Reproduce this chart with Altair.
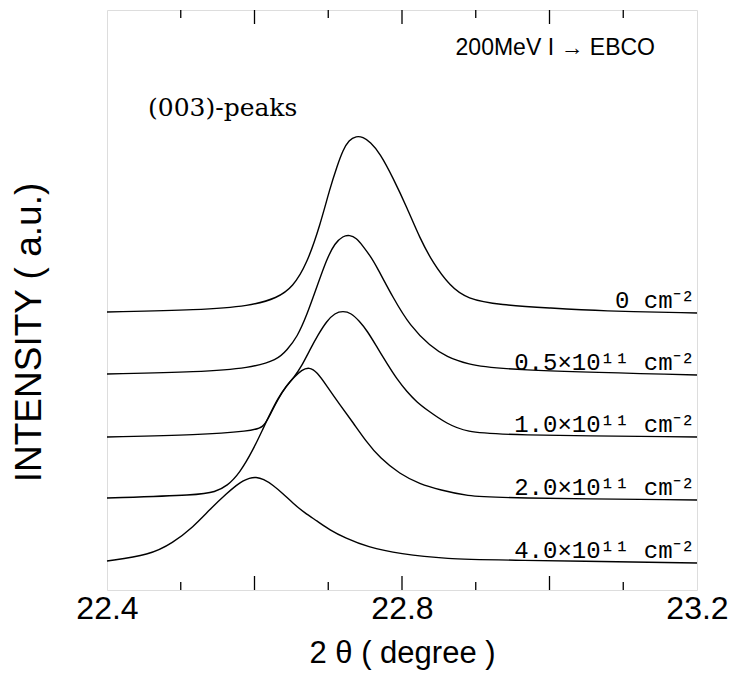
import altair as alt
import pandas as pd

# ---- data ----
fluence_labels = ["0 cm⁻²", "0.5×10¹¹ cm⁻²", "1.0×10¹¹ cm⁻²", "2.0×10¹¹ cm⁻²", "4.0×10¹¹ cm⁻²"]

x_0 = [22.400, 22.526, 22.594, 22.631, 22.652, 22.671, 22.689, 22.702, 22.712, 22.720, 22.728,
       22.738, 22.747, 22.757, 22.770, 22.788, 22.807, 22.824, 22.842, 22.865, 22.888, 22.933,
       23.001, 23.068, 23.200]
y_0 = [278, 280, 284, 292, 303, 326, 365, 401, 424, 440, 450,
       454, 453, 448, 437, 412, 382, 352, 327, 304, 291, 285,
       282, 279, 277]

x_05 = [22.400, 22.526, 22.594, 22.631, 22.644, 22.658, 22.671, 22.685, 22.698, 22.709, 22.720,
        22.729, 22.738, 22.747, 22.757, 22.766, 22.788, 22.811, 22.838, 22.861, 22.888, 22.933,
        23.200]
y_05 = [216, 218, 222, 230, 240, 253, 275, 304, 331, 347, 354,
        355, 352, 344, 334, 323, 292, 264, 244, 233, 226, 220,
        215]

x_10 = [22.400, 22.526, 22.594, 22.612, 22.621, 22.632, 22.643, 22.654, 22.664, 22.675, 22.686,
        22.698, 22.709, 22.720, 22.731, 22.742, 22.753, 22.766, 22.780, 22.793, 22.807, 22.820,
        22.834, 22.861, 22.888, 22.933, 23.200]
y_10 = [153, 155, 159, 162, 175, 191, 204, 213, 224, 240, 255,
        269, 277, 279, 277, 269, 259, 243, 226, 211, 198, 188,
        180, 166, 158, 155, 153]

x_20 = [22.400, 22.526, 22.546, 22.563, 22.580, 22.598, 22.612, 22.621, 22.632, 22.643, 22.654,
        22.664, 22.674, 22.685, 22.698, 22.716, 22.734, 22.751, 22.770, 22.797, 22.824, 22.852,
        22.888, 22.933, 23.200]
y_20 = [92, 95, 98, 104, 117, 140, 162, 176, 192, 204, 213,
        220, 223, 218, 204, 185, 167, 149, 132, 116, 106, 100,
        94, 92, 90]

x_40 = [22.400, 22.458, 22.489, 22.517, 22.540, 22.563, 22.576, 22.584, 22.593, 22.602, 22.612,
        22.625, 22.639, 22.652, 22.668, 22.685, 22.702, 22.723, 22.753, 22.797, 22.861, 22.933,
        23.200]
y_40 = [29, 35, 47, 63, 81, 97, 105, 109, 112, 113, 111,
        105, 96, 87, 77, 69, 60, 52, 43, 36, 31, 30,
        27]

x_labels = [22.4, 22.8, 23.2]
major_ticks = [22.6, 22.8, 23.0]
minor_ticks = [22.5, 22.7, 22.9, 23.1]

series_x = [x_0, x_05, x_10, x_20, x_40]
series_y = [y_0, y_05, y_10, y_20, y_40]

rows = []
for lab, xs, ys in zip(fluence_labels, series_x, series_y):
    for j, (a, b) in enumerate(zip(xs, ys)):
        rows.append({"twotheta": a, "intensity": b, "fluence": lab, "k": j})
df = pd.DataFrame(rows)

lab_df = pd.DataFrame({"fluence": fluence_labels,
                       "intensity": [ys[-1] for ys in series_y]})

xsc = alt.Scale(domain=[22.4, 23.2], nice=False, zero=False)
ysc = alt.Scale(domain=[0, 580], nice=False, zero=False)

lines = alt.Chart(df).mark_line(color="black", strokeWidth=1.4, interpolate="basis").encode(
    x=alt.X("twotheta:Q", scale=xsc,
            axis=alt.Axis(values=x_labels, format=".1f", ticks=False, domain=False, grid=False,
                          labelFontSize=32, labelFont="Liberation Sans", labelColor="black",
                          labelPadding=3, labelFlush=False, labelOverlap=False,
                          title="2 θ  ( degree )", titleFontSize=31, titleFont="Liberation Sans",
                          titleFontWeight="normal", titleColor="black", titlePadding=14)),
    y=alt.Y("intensity:Q", scale=ysc,
            axis=alt.Axis(labels=False, ticks=False, domain=False, grid=False,
                          title="INTENSITY ( a.u.)", titleFontSize=37, titleFont="Liberation Sans",
                          titleFontWeight="normal", titleColor="black", titleX=-59, titleY=322)),
    detail="fluence:N",
    order="k:Q",
)

maj_df = pd.DataFrame({"twotheta": major_ticks})
min_df = pd.DataFrame({"twotheta": minor_ticks})

def xtick(d, y1, y2):
    return alt.Chart(d).mark_rule(color="black", strokeWidth=1.3).encode(
        x=alt.X("twotheta:Q", scale=xsc), y=alt.value(y1), y2=alt.value(y2))

ticks = [xtick(maj_df, 580, 566), xtick(min_df, 580, 572),
         xtick(maj_df, 0, 14), xtick(min_df, 0, 8)]

labels = alt.Chart(lab_df).mark_text(align="right", baseline="alphabetic", dy=-5,
                                     font="Liberation Mono", fontSize=24, color="black").encode(
    y=alt.Y("intensity:Q", scale=ysc), x=alt.value(588), text="fluence:N")

title1 = alt.Chart(pd.DataFrame({"t": ["200MeV  I → EBCO"]})).mark_text(
    align="right", baseline="middle", font="Liberation Sans", fontSize=23, color="black").encode(
    x=alt.value(548), y=alt.value(38), text="t:N")

title2 = alt.Chart(pd.DataFrame({"t": ["(003)-peaks"]})).mark_text(
    align="left", baseline="middle", font="DejaVu Serif", fontSize=25, color="black").encode(
    x=alt.value(41), y=alt.value(98), text="t:N")

chart = alt.layer(lines, *ticks, labels, title1, title2).properties(
    width=590, height=580,
    autosize=alt.AutoSizeParams(type="none"),
    padding={"left": 107, "top": 10, "right": 44, "bottom": 97},
).configure_view(stroke="black", strokeWidth=1.5).configure(background="white")

chart.save("out.html", embed_options={"renderer": "svg", "actions": False})
